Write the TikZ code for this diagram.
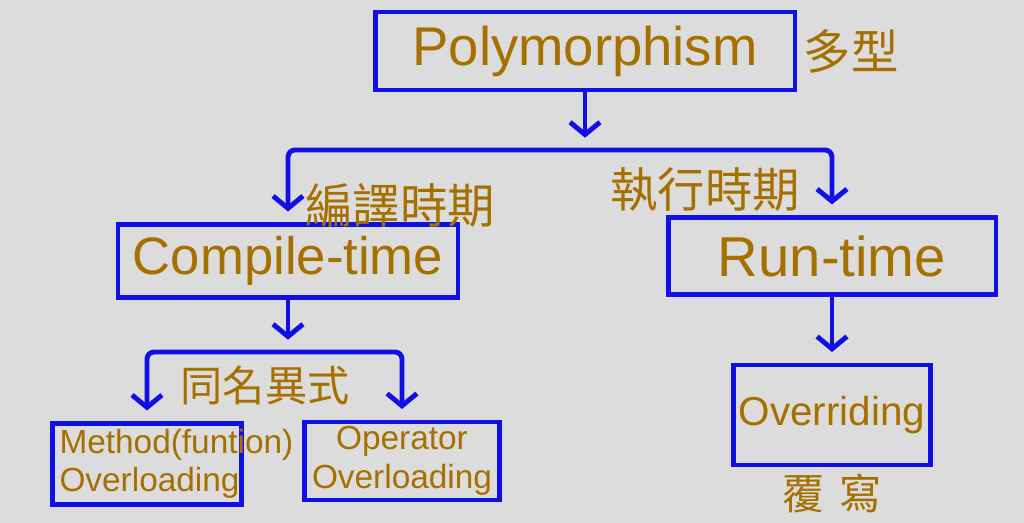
\documentclass[tikz,border=0pt]{standalone}
\usepackage{fontspec}
\setmainfont{Liberation Sans}
\newfontfamily\cjk{Noto Sans CJK TC}
\usetikzlibrary{positioning,arrows.meta}
\definecolor{bggray}{RGB}{220,220,220}
\definecolor{penblue}{RGB}{16,16,228}
\definecolor{penbrown}{RGB}{165,112,0}
\tikzset{barb/.tip={Straight Barb[length=7pt,width=17pt]}}

\begin{document}
\begin{tikzpicture}[x=0.02cm, y=-0.02cm, node distance=0mm,
  box/.style={draw=penblue, line width=2.8pt, text=penbrown, inner sep=2pt},
  lbl/.style={text=penbrown, font=\cjk\fontsize{27}{29}\selectfont},
  link/.style={draw=penblue, line width=2.8pt, rounded corners=4pt,
    line cap=round, line join=round, -barb, shorten >=6pt}]
  \fill[bggray] (0,0) rectangle (1024,523);
  \useasboundingbox (0,0) rectangle (1024,523);

  \node[box, minimum width=8.4cm, minimum height=1.56cm,
    font=\fontsize{31}{33}\selectfont] (poly) at (585,51) {Polymorphism};
  \node[lbl, anchor=west] (polyzh) [right=of poly] {多型};

  \node[box, minimum width=6.8cm, minimum height=1.46cm,
    font=\fontsize{30}{32}\selectfont] (compile) at (288,261) {Compile-time};
  \node[box, minimum width=6.56cm, minimum height=1.54cm,
    font=\fontsize{32}{34}\selectfont] (runtime) at (832,256) {Run-time};
  \node[lbl] (compilezh) at (400,205) {編譯時期};
  \node[lbl] (runtimezh) at (705,190) {執行時期};

  \node[box, minimum width=3.78cm, minimum height=1.62cm, text width=3.5cm,
    align=left, font=\fontsize{19}{22}\selectfont] (method) at (147,464)
    {\hbox{Method(funtion)}\\Overloading};
  \node[box, minimum width=3.9cm, minimum height=1.56cm, align=center,
    font=\fontsize{19}{22}\selectfont] (operator) at (402,461)
    {Operator\\Overloading};
  \node[lbl, font=\cjk\fontsize{24}{26}\selectfont] (overloadzh) at (265,385) {同名異式};

  \node[box, minimum width=3.94cm, minimum height=2cm,
    font=\fontsize{23}{25}\selectfont] (override) at (832,415) {Overriding};
  \node[lbl, font=\cjk\fontsize{24}{26}\selectfont] (overridezh) [below=of override] {覆\,\,寫};

  % branch points of the brackets
  \coordinate (bar1) at (585,150);
  \coordinate (bar2) at (288,352);

  \draw[link, shorten >=7pt] (poly) -- (bar1);
  \draw[link, barb-barb, shorten <=6pt] (compile) |- (bar1) -| (runtime);
  \draw[link, shorten >=7pt] (compile) -- (bar2);
  \draw[link, barb-barb, shorten <=6pt] (method) |- (bar2) -| (operator);
  \draw[link] (runtime) -- (override);
\end{tikzpicture}
\end{document}
